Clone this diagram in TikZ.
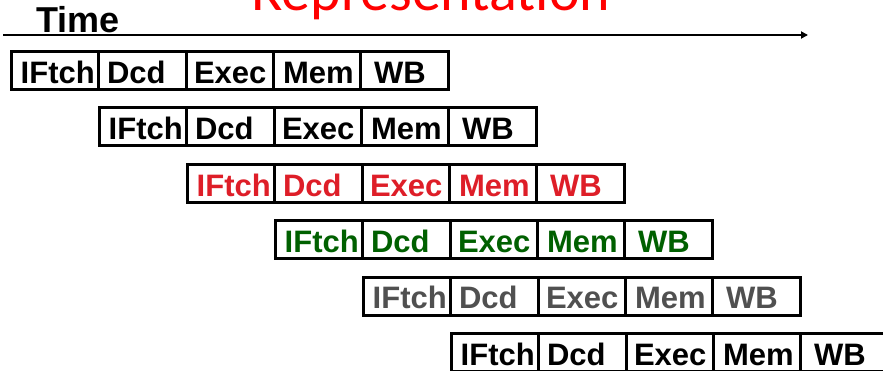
\documentclass[tikz,border=0pt]{standalone}
\usepackage{fontspec}
\setmainfont{Liberation Sans}
\newfontfamily\carlitofont{Carlito}
\usetikzlibrary{arrows.meta}
\definecolor{redS}{RGB}{222,30,40}
\definecolor{greenS}{RGB}{0,96,0}
\definecolor{grayS}{RGB}{80,80,80}
\begin{document}
\begin{tikzpicture}[x=1pt,y=-1pt,
  cellbox/.style={draw=black, line width=3pt, fill=white, inner sep=0pt, outer sep=0pt,
    minimum width=87.3pt, minimum height=38pt, anchor=north west},
  lbl/.style={anchor=base west, inner sep=0pt, outer sep=0pt, font=\bfseries\fontsize{31}{31}\selectfont}]
\useasboundingbox (0,0) rectangle (883,371);
\clip (0,0) rectangle (883,371);
\node[anchor=base west, inner sep=0pt, text=red, font=\carlitofont\fontsize{58}{58}\selectfont] (title) at (251,10.5) {Representation};
\node[anchor=base west, inner sep=0pt, font=\bfseries\fontsize{36}{36}\selectfont] (time) at (36,33) {Time};
\coordinate (ts) at (3,35);
\coordinate (te) at (808,35);
\draw[line width=2pt, -{Triangle[length=7pt,width=7pt]}] (ts) -- (te);
\foreach \r/\col in {0/black,1/black,2/redS,3/greenS,4/grayS,5/black} {
  \foreach \c/\t/\o in {0/IFtch/9.2,1/Dcd/8.2,2/Exec/7.9,3/Mem/9.6,4/WB/13.3} {
    \pgfmathsetmacro\xx{11.5+88*\r+87.3*\c}
    \pgfmathsetmacro\yy{51.5+56.4*\r}
    \pgfmathsetmacro\tx{\xx+\o}
    \pgfmathsetmacro\ty{\yy+31.8}
    \node[cellbox] (b\r\c) at (\xx,\yy) {};
    \node[lbl, text=\col] (t\r\c) at (\tx,\ty) {\t};
  }
}
\end{tikzpicture}
\end{document}
